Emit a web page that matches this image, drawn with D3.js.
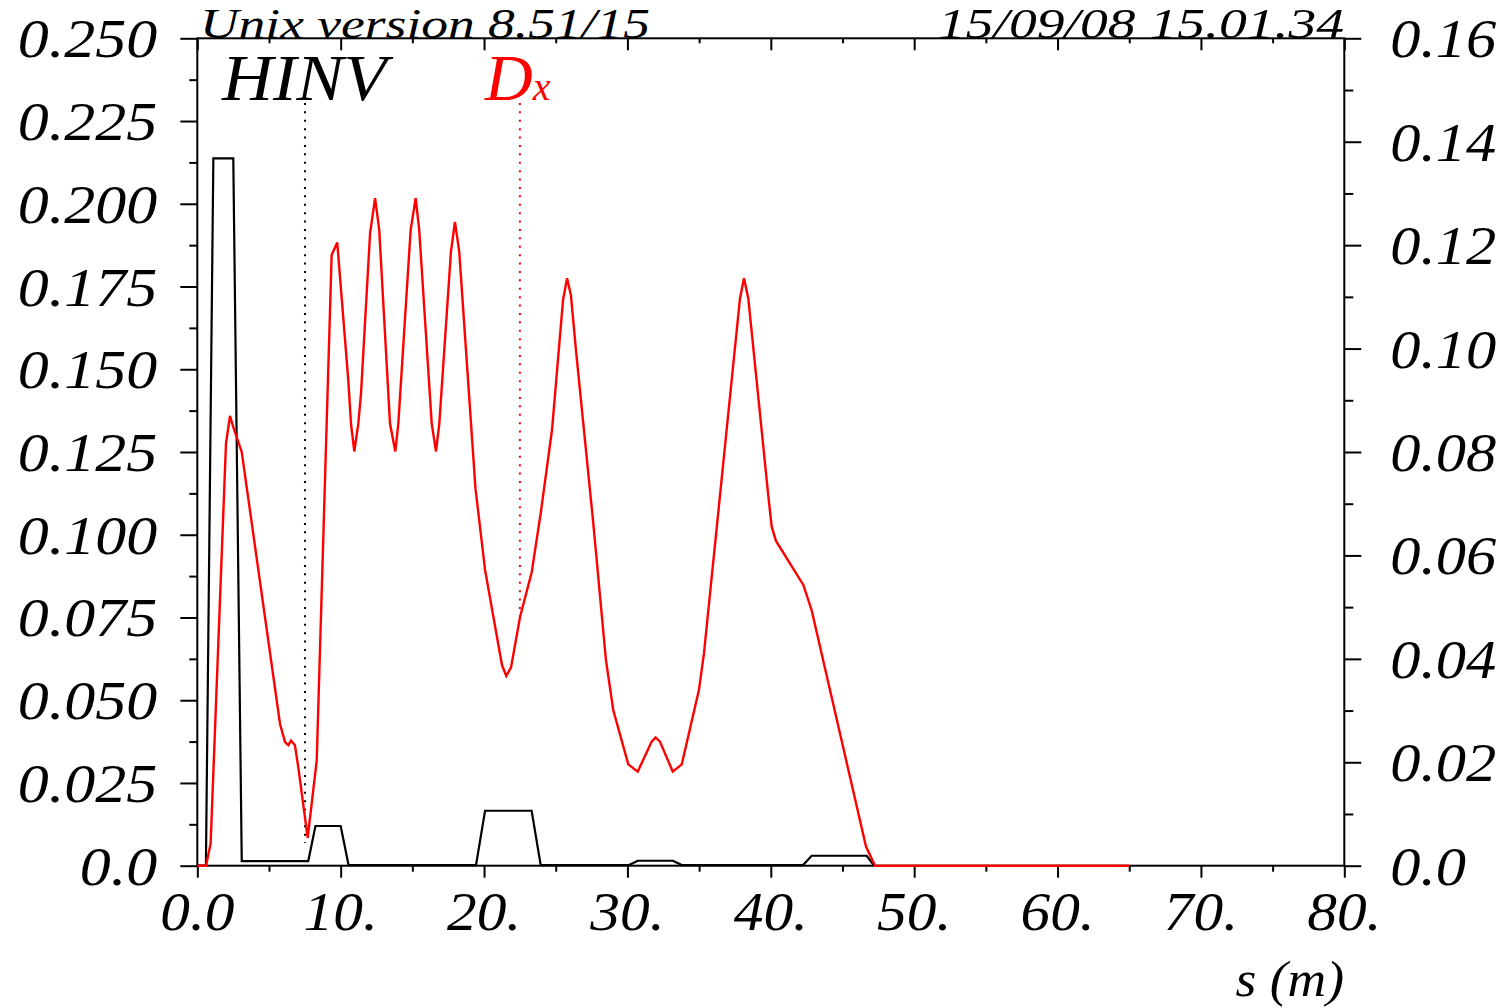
<!DOCTYPE html>
<html><head><meta charset="utf-8">
<script src="https://cdn.jsdelivr.net/npm/d3@7"></script>
<style>
body{margin:0;background:#fff}
svg text{font-family:"Liberation Serif","Times New Roman",serif;font-style:italic}
</style>
</head><body>
<svg id="chart" width="1503" height="1008"></svg>
<script>
// ---- data ----
const hinvS = [0, 0.6, 1.12, 2.51, 3.10, 7.74, 8.24, 10.0, 10.55, 19.44, 20.07, 23.32, 23.95, 30.11, 30.72, 33.18, 33.79, 42.25, 42.85, 46.69, 47.2];
const hinvV = [0, 0, 0.2137, 0.2137, 0.0014, 0.0014, 0.0120, 0.0120, 0.0002, 0.0002, 0.0166, 0.0166, 0.0002, 0.0002, 0.0015, 0.0015, 0.0002, 0.0002, 0.0030, 0.0030, 0];

const dxS = [0, 0.61, 0.93, 2.0, 2.28, 2.51, 3.10, 5.77, 6.12, 6.35, 6.54, 6.81, 7.04, 7.70, 8.33, 9.37, 9.76, 10.53, 10.72, 10.95, 11.23, 11.42, 12.05, 12.40, 12.69, 13.44, 13.81, 14.02, 14.88, 15.23, 15.48, 16.35, 16.65, 16.88, 17.69, 17.97, 18.27, 19.40, 20.07, 21.25, 21.55, 21.88, 22.51, 23.32, 23.95, 24.74, 25.51, 25.79, 26.06, 26.41, 27.62, 28.50, 29.01, 30.06, 30.72, 31.69, 31.97, 32.27, 33.16, 33.79, 34.99, 35.34, 37.85, 38.13, 38.43, 39.83, 40.06, 40.36, 42.27, 42.85, 46.64, 47.27, 65.0];
const dxV = [0, 0, 0.0043, 0.0816, 0.0870, 0.0848, 0.0800, 0.0274, 0.0239, 0.0233, 0.0242, 0.0233, 0.0191, 0.0054, 0.0204, 0.1181, 0.1205, 0.0939, 0.0855, 0.0801, 0.0855, 0.0914, 0.1223, 0.1291, 0.1229, 0.0855, 0.0801, 0.0855, 0.1229, 0.1291, 0.1229, 0.0855, 0.0801, 0.0855, 0.1187, 0.1245, 0.1187, 0.0730, 0.0572, 0.0388, 0.0367, 0.0383, 0.0481, 0.0567, 0.0681, 0.0843, 0.1094, 0.1136, 0.1103, 0.0997, 0.0662, 0.0398, 0.0301, 0.0196, 0.0182, 0.0240, 0.0248, 0.0240, 0.0182, 0.0196, 0.0340, 0.0411, 0.1097, 0.1136, 0.1097, 0.0714, 0.0656, 0.0628, 0.0543, 0.0494, 0.0037, 0, 0];

// markers (dotted lines under the labels), in s and right-axis units
const markerS = [7.51, 22.5];
const markerTopV = [0.1475, 0.1475];
const markerEndV = [0.0044, 0.048];

const xTicks = [0, 10, 20, 30, 40, 50, 60, 70, 80];
const xTickLabels = ["0.0", "10.", "20.", "30.", "40.", "50.", "60.", "70.", "80."];
const xMinor = [5, 15, 25, 35, 45, 55, 65, 75];

const yLTicks = [0, 0.025, 0.05, 0.075, 0.1, 0.125, 0.15, 0.175, 0.2, 0.225, 0.25];
const yLTickLabels = ["0.0", "0.025", "0.050", "0.075", "0.100", "0.125", "0.150", "0.175", "0.200", "0.225", "0.250"];
const yLMinor = [0.0125, 0.0375, 0.0625, 0.0875, 0.1125, 0.1375, 0.1625, 0.1875, 0.2125, 0.2375];

const yRTicks = [0, 0.02, 0.04, 0.06, 0.08, 0.1, 0.12, 0.14, 0.16];
const yRTickLabels = ["0.0", "0.02", "0.04", "0.06", "0.08", "0.10", "0.12", "0.14", "0.16"];
const yRMinor = [0.01, 0.03, 0.05, 0.07, 0.09, 0.11, 0.13, 0.15];

// ---- layout ----
const L = 197.3, R = 1344.3, T = 38.3, B = 865.7;
const svg = d3.select("#chart");
const x = d3.scaleLinear([0, 80], [L, R]);
const yL = d3.scaleLinear([0, 0.25], [B, T]);
const yR = d3.scaleLinear([0, 0.16], [B, T]);

function axisStyle(g) {
  g.select(".domain").remove();
  g.selectAll(".tick line").attr("stroke", "#000").attr("stroke-width", 2);
  g.selectAll(".tick text").remove();
}
svg.append("g").attr("transform", `translate(0,${B})`).call(d3.axisBottom(x).tickValues(xTicks).tickSize(12).tickSizeOuter(0)).call(axisStyle);
svg.append("g").attr("transform", `translate(0,${B})`).call(d3.axisBottom(x).tickValues(xMinor).tickSize(6).tickSizeOuter(0)).call(axisStyle);
svg.append("g").attr("transform", `translate(0,${T})`).call(d3.axisTop(x).tickValues(xTicks).tickSize(-12).tickSizeOuter(0)).call(axisStyle);
svg.append("g").attr("transform", `translate(0,${T})`).call(d3.axisTop(x).tickValues(xMinor).tickSize(-5).tickSizeOuter(0)).call(axisStyle);
svg.append("g").attr("transform", `translate(${L},0)`).call(d3.axisLeft(yL).tickValues(yLTicks).tickSize(17).tickSizeOuter(0)).call(axisStyle);
svg.append("g").attr("transform", `translate(${L},0)`).call(d3.axisLeft(yL).tickValues(yLMinor).tickSize(8).tickSizeOuter(0)).call(axisStyle);
svg.append("g").attr("transform", `translate(${R},0)`).call(d3.axisRight(yR).tickValues(yRTicks).tickSize(17).tickSizeOuter(0)).call(axisStyle);
svg.append("g").attr("transform", `translate(${R},0)`).call(d3.axisRight(yR).tickValues(yRMinor).tickSize(9).tickSizeOuter(0)).call(axisStyle);

// frame
svg.append("rect").attr("x", L).attr("y", T).attr("width", R - L).attr("height", B - T)
  .attr("fill", "none").attr("stroke", "#000").attr("stroke-width", 2);

// tick labels (horizontally stretched serif italic)
const FS = 55;
svg.append("g").selectAll("text").data(xTicks).join("text")
  .attr("transform", d => `translate(${x(d)},${B + 64}) scale(1.08,1)`).attr("text-anchor", "middle")
  .attr("font-size", FS).text((d, i) => xTickLabels[i]);
svg.append("g").selectAll("text").data(yLTicks).join("text")
  .attr("transform", d => `translate(${L - 40},${yL(d) + 19}) scale(1.127,1)`).attr("text-anchor", "end")
  .attr("font-size", FS).text((d, i) => yLTickLabels[i]);
svg.append("g").selectAll("text").data(yRTicks).join("text")
  .attr("transform", d => `translate(${R + 46},${yR(d) + 19}) scale(1.1,1)`).attr("text-anchor", "start")
  .attr("font-size", FS).text((d, i) => yRTickLabels[i]);

// markers
markerS.forEach((s, i) => {
  svg.append("line").attr("x1", x(s)).attr("x2", x(s))
    .attr("y1", yR(markerTopV[i])).attr("y2", yR(markerEndV[i]))
    .attr("stroke", i === 0 ? "#000" : "#ff0000").attr("stroke-width", 2)
    .attr("stroke-dasharray", "2,6.4");
});

// curves
const hinv = hinvS.map((s, i) => ({s, v: hinvV[i]}));
const dx = dxS.map((s, i) => ({s, v: dxV[i]}));
svg.append("path").datum(hinv)
  .attr("d", d3.line().x(d => x(d.s)).y(d => yL(d.v)))
  .attr("fill", "none").attr("stroke", "#000").attr("stroke-width", 2.2);
svg.append("path").datum(dx)
  .attr("d", d3.line().x(d => x(d.s)).y(d => yR(d.v)))
  .attr("fill", "none").attr("stroke", "#ff0000").attr("stroke-width", 2.4);

// header / labels
svg.append("text").attr("x", 200).attr("y", 38).attr("font-size", 42)
  .attr("textLength", 450).attr("lengthAdjust", "spacingAndGlyphs").text("Unix version 8.51/15");
svg.append("text").attr("x", 938).attr("y", 38).attr("font-size", 42)
  .attr("textLength", 406).attr("lengthAdjust", "spacingAndGlyphs").text("15/09/08  15.01.34");
svg.append("text").attr("transform", "translate(222,100) scale(1.07,1)").attr("font-size", 66).text("HINV");
const dl = svg.append("text").attr("x", 485).attr("y", 100).attr("fill", "#ff0000");
dl.append("tspan").attr("font-size", 66).text("D");
dl.append("tspan").attr("font-size", 40).text("x");
svg.append("text").attr("transform", "translate(1344,996) scale(1.07,1)").attr("text-anchor", "end").attr("font-size", 50).text("s (m)");
</script>
</body></html>
